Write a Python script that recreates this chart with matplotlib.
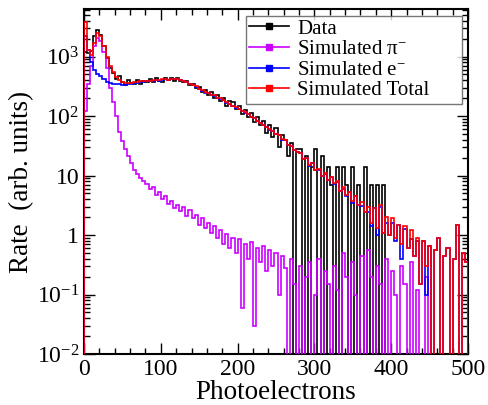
import numpy as np
import matplotlib.pyplot as plt
from matplotlib.lines import Line2D
from matplotlib.ticker import MultipleLocator, LogLocator, FixedLocator, NullFormatter

plt.rcParams['font.family'] = ['Liberation Serif', 'DejaVu Serif']
plt.rcParams['mathtext.fontset'] = 'custom'
plt.rcParams['mathtext.rm'] = 'Liberation Serif'
plt.rcParams['mathtext.it'] = 'Liberation Serif:italic'

# histogram bins: 4 photoelectrons wide, 0..500
edges = np.arange(0, 501, 4)

# Data (black)
data = [1200, 1150, 1250, 2200, 2800, 2300, 1500, 950, 650, 520,
        420, 480, 380, 330, 400, 360, 340, 410, 350, 395,
        370, 420, 380, 430, 395, 380, 440, 400, 430, 390,
        430, 395, 370, 395, 330, 350, 300, 310, 250, 270,
        230, 255, 200, 225, 180, 205, 150, 180, 170, 130,
        145, 110, 125, 95, 112, 78, 98, 70, 82, 52,
        70, 45, 62, 30, 48, 40, 21, 35, 0, 28,
        28, 0, 21, 0, 14, 28, 0, 21, 0, 14,
        7, 0, 14, 0, 14, 7, 0, 14, 0, 7,
        0, 14, 0, 7, 0, 7, 0, 7, 0, 0,
        0, 0, 0, 0, 0, 0, 0, 0, 0, 0,
        0, 0, 0, 0, 0, 0, 0, 0, 0, 0,
        0, 0, 0, 0, 0]

# Simulated pi- (magenta)
pion = [120, 350, 700, 1500, 2050, 1800, 1200, 650, 300, 170,
        100, 55, 38, 28, 21, 16, 12.5, 10.5, 9, 8,
        7.2, 6.0, 6.4, 4.8, 5.2, 4.0, 4.6, 3.3, 3.8, 2.9,
        3.2, 2.5, 3.0, 2.1, 2.6, 1.9, 2.2, 1.5, 1.9, 1.3,
        1.6, 1.1, 1.4, 0.9, 1.2, 0.7, 1.05, 0.6, 0.9, 0.5,
        0.85, 0.06, 0.7, 0.4, 0.75, 0.03, 0.6, 0.35, 0.65, 0.25,
        0.55, 0.3, 0.5, 0.1, 0.45, 0.28, 0, 0.4, 0.15, 0,
        0.3, 0, 0.2, 0.35, 0, 0.1, 0.4, 0, 0.25, 0.15,
        0, 0.3, 0.12, 0, 0.5, 0.2, 0, 0.35, 0.1, 0,
        0.45, 0, 0.55, 0.2, 0, 0.3, 0.15, 0, 0.4, 0,
        0.25, 0.1, 0, 0.3, 0.15, 0, 0.35, 0, 0.12, 0,
        0, 0.2, 0, 0, 0, 0, 0, 0, 0, 0,
        0, 0, 0, 0, 0]

# Simulated e- (blue)
elec = [2200, 1300, 800, 600, 500, 470, 420, 380, 360, 350,
        345, 340, 335, 335, 340, 345, 355, 360, 370, 378,
        388, 382, 396, 403, 395, 411, 413, 405, 418, 412,
        412, 397, 387, 373, 347, 333, 313, 288, 268, 249,
        240, 224, 221, 204, 197, 184, 169, 161, 147, 139,
        129, 124, 114, 108, 95, 92, 83, 76, 71, 66,
        59, 57, 49, 48, 40, 40, 33, 31, 27, 25,
        23.7, 19, 19.8, 14.6, 16, 12.4, 12.6, 10, 10.7, 8.3,
        9.5, 7.2, 7.9, 5.5, 6.0, 4.6, 5.2, 3.4, 4.5, 3.2,
        3.1, 2.4, 2.4, 1.4, 2.8, 1.0, 3.0, 1.1, 1.6, 1.0,
        1.6, 0.8, 1.5, 0.4, 1.25, 0.6, 0.85, 0.45, 0.8, 0.15,
        0.8, 0.1, 0.65, 0, 0.55, 0.9, 0, 0.45, 0.6, 0,
        0.4, 1.5, 0, 0.5, 0.35]

# Simulated total (red)
total = [3800, 1300, 1050, 1700, 2500, 2200, 1500, 1000, 700, 560,
         455, 400, 378, 365, 362, 366, 372, 368, 382, 388,
         395, 388, 402, 408, 400, 415, 418, 408, 422, 415,
         415, 400, 390, 375, 350, 335, 315, 290, 270, 250,
         242, 225, 222, 205, 198, 185, 170, 162, 148, 140,
         130, 124, 115, 108, 96, 92, 84, 76, 72, 66,
         60, 57, 50, 48, 41, 40, 33, 32, 27, 25,
         24, 19, 20, 15, 16, 12.5, 13, 10, 11, 8.5,
         9.5, 7.5, 8.0, 5.5, 6.5, 4.8, 5.2, 3.8, 4.6, 3.2,
         3.6, 2.4, 3.0, 1.6, 2.8, 1.3, 3.2, 1.1, 2.0, 1.0,
         1.9, 0.9, 1.5, 0.7, 1.4, 0.6, 1.2, 0.45, 0.9, 0.15,
         0.8, 0.3, 0.65, 0, 0.55, 0.9, 0, 0.45, 0.6, 0,
         0.4, 1.5, 0, 0.5, 0.35]

series = [
    ('Data', data, 'black'),
    (r'Simulated $\mathregular{\pi^{-}}$', pion, '#cc00ff'),
    (r'Simulated $\mathregular{e^{-}}$', elec, '#0000ff'),
    ('Simulated Total', total, '#ff0000'),
]

fig = plt.figure(figsize=(4.88, 4.05), dpi=100)
ax = fig.add_axes([84 / 488, 51 / 405, 384 / 488, 345 / 405])
ax.set_yscale('log')

floor = 1e-6
draw_order = [1, 2, 0, 3]
for i in draw_order:
    name, vals, col = series[i]
    v = np.clip(np.asarray(vals, dtype=float), floor, None)
    ax.stairs(v, edges, baseline=floor, color=col, lw=1.2, zorder=2 + i)

ax.set_xlim(0, 500)
ax.set_ylim(1e-2, 10 ** 3.8)

ax.xaxis.set_major_locator(MultipleLocator(100))
ax.xaxis.set_minor_locator(MultipleLocator(20))
ax.yaxis.set_major_locator(FixedLocator([1e-2, 1e-1, 1, 10, 100, 1000]))
ax.set_yticklabels([r'$\mathregular{10^{-2}}$', r'$\mathregular{10^{-1}}$', '1', '10',
                    r'$\mathregular{10^{2}}$', r'$\mathregular{10^{3}}$'])
ax.yaxis.set_minor_locator(LogLocator(base=10, subs=np.arange(2, 10), numticks=20))
ax.yaxis.set_minor_formatter(NullFormatter())

ax.tick_params(which='both', direction='in', top=True, right=True, labelsize=17, width=1.0)
ax.tick_params(which='major', length=8)
ax.tick_params(which='minor', length=4)
for s in ax.spines.values():
    s.set_linewidth(1.5)

ax.set_xlabel('Photoelectrons', fontsize=19.5, labelpad=0)
ax.set_ylabel('Rate  (arb. units)', fontsize=19.5, labelpad=2)

handles = [Line2D([], [], color=col, lw=1.2, marker='s', markersize=4) for _, _, col in series]
labels = [name for name, _, _ in series]
leg = ax.legend(handles, labels, loc='upper left', bbox_to_anchor=(0.422, 0.733, 0.562, 0.247),
                mode='expand', borderaxespad=0, fontsize=15, frameon=True, fancybox=False,
                handlelength=1.9, labelspacing=0.05, borderpad=0.15, handletextpad=0.4)
leg.get_frame().set_edgecolor('#555555')
leg.get_frame().set_linewidth(1.0)

fig.savefig('out.png', dpi=100)
